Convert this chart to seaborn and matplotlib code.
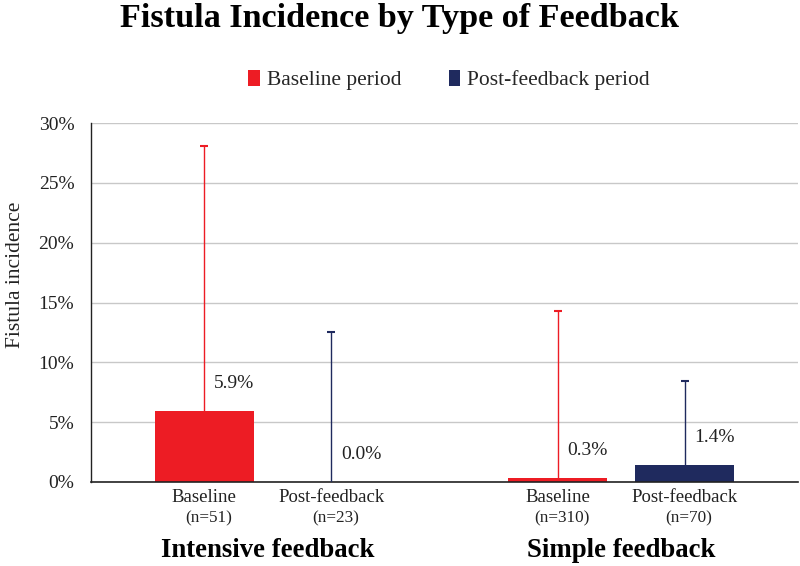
import matplotlib
matplotlib.use("Agg")
import matplotlib.pyplot as plt
import seaborn as sns
import pandas as pd
from matplotlib.ticker import PercentFormatter
from matplotlib.container import BarContainer

groups = ["Intensive feedback", "Simple feedback"]
periods = ["Baseline period", "Post-feedback period"]
bar_labels = ["Baseline", "Post-feedback"]
n_labels = [["(n=51)", "(n=23)"], ["(n=310)", "(n=70)"]]
values = [[0.059, 0.000], [0.003, 0.014]]
upper_ci = [[0.281, 0.125], [0.143, 0.084]]
value_text = [["5.9%", "0.0%"], ["0.3%", "1.4%"]]
colors = ["#ED1C24", "#1F2A5E"]

rows = []
for gi, g in enumerate(groups):
    for pi, p in enumerate(periods):
        rows.append({"group": g, "period": p, "value": values[gi][pi]})
df = pd.DataFrame(rows)

sns.set_theme(style="white")
plt.rcParams["font.family"] = ["Liberation Serif", "DejaVu Serif"]

fig = plt.figure(figsize=(8, 5.66), dpi=100)
ax = fig.add_axes([91/800, 1-482/566, (798-91)/800, (482-123)/566])

sns.barplot(data=df, x="group", y="value", hue="period", order=groups,
            hue_order=periods, palette=colors, width=0.72, gap=0.222,
            errorbar=None, saturation=1, ax=ax, legend=True, linewidth=0)

ax.set_xlim(-0.5, 1.5)
ax.set_ylim(0, 0.30)
ax.set_yticks([0, 0.05, 0.10, 0.15, 0.20, 0.25, 0.30])
ax.yaxis.set_major_formatter(PercentFormatter(1.0, decimals=0))
ax.tick_params(axis="y", labelsize=14, length=0, pad=12, colors="#222222")
ax.set_xticks([])
ax.set_xlabel("")
ax.set_ylabel("")
ax.grid(axis="y", color="#C8C8C8", linewidth=1)
ax.set_axisbelow(True)
for s in ["top", "right"]:
    ax.spines[s].set_visible(False)
ax.spines["left"].set_color("#222222")
ax.spines["bottom"].set_color("#222222")
ax.spines["left"].set_linewidth(1)
ax.spines["bottom"].set_linewidth(1.2)

bar_containers = [c for c in ax.containers if isinstance(c, BarContainer)]

# error bars, value labels, bar labels
for pi, cont in enumerate(bar_containers):
    for gi, bar in enumerate(cont.patches):
        xc = bar.get_x() + bar.get_width() / 2
        v = values[gi][pi]
        eb = ax.errorbar([xc], [v], yerr=[[0], [upper_ci[gi][pi] - v]],
                         fmt="none", ecolor=colors[pi], elinewidth=1,
                         capsize=3, capthick=1.5, zorder=3)
        caplines = eb[1]
        if len(caplines) > 1:
            caplines[0].set_visible(False)
        ax.annotate(value_text[gi][pi], xy=(xc, v), xytext=(21.5, 20),
                    textcoords="offset points", ha="center", va="center",
                    fontsize=14, color="#222222")
        ax.annotate(bar_labels[pi], xy=(xc, 0), xycoords=("data", "axes fraction"),
                    xytext=(0, -11), textcoords="offset points",
                    ha="center", va="center", fontsize=13.5, color="#222222")
        ax.annotate(n_labels[gi][pi], xy=(xc, 0), xycoords=("data", "axes fraction"),
                    xytext=(3, -26.5), textcoords="offset points",
                    ha="center", va="center", fontsize=12.3, color="#222222")

for gi, g in enumerate(groups):
    ax.annotate(g, xy=(gi, 0), xycoords=("data", "axes fraction"),
                xytext=(0, -49), textcoords="offset points",
                ha="center", va="center", fontsize=19.3, fontweight="bold",
                color="black")

leg = ax.get_legend()
handles = leg.legend_handles
leg.remove()
fig.legend(handles, periods, loc="center", bbox_to_anchor=(449/800, 1-80/566),
           ncol=2, frameon=False, fontsize=15.5, handlelength=0.55,
           handleheight=0.8, handletextpad=0.3, columnspacing=2.2)

fig.text(16/800, 1-275/566, "Fistula incidence", rotation=90, ha="center",
         va="center", fontsize=15.5, color="#222222")
fig.text(0.5, 1-18/566, "Fistula Incidence by Type of Feedback", ha="center",
         va="center", fontsize=24.6, fontweight="bold", color="black")

fig.savefig("out.png", dpi=100)
